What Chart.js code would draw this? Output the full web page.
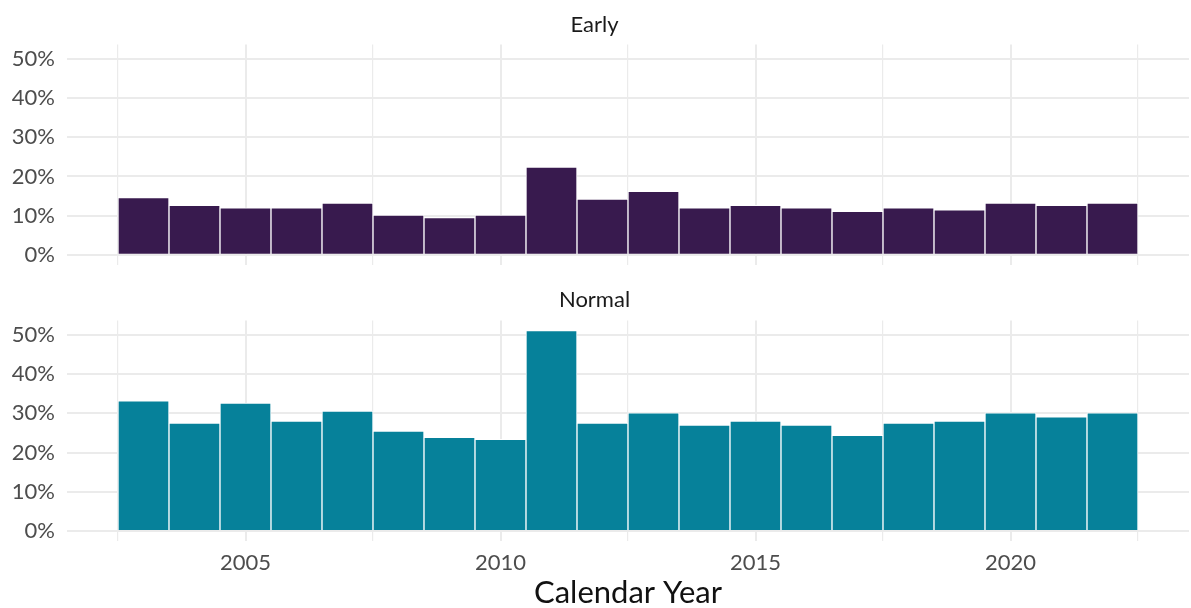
<!DOCTYPE html>
<html>
<head>
<meta charset="utf-8">
<title>Early vs Normal by Calendar Year</title>
<script src="https://cdn.jsdelivr.net/npm/chart.js@4/dist/chart.umd.min.js"></script>
<style>
    body { margin: 0; background: #fff; width: 1191px; height: 608px; overflow: hidden; }
    .panel { position: absolute; left: 0; width: 1191px; }
</style>
</head>
<body>

<div class="panel" style="top:0;height:290px"><canvas id="earlyChart"></canvas></div>
<div class="panel" style="top:280px;height:332px"><canvas id="normalChart"></canvas></div>

<script>
/*====================================
        Data
====================================*/

const years = [2003, 2004, 2005, 2006, 2007, 2008, 2009, 2010, 2011, 2012,
               2013, 2014, 2015, 2016, 2017, 2018, 2019, 2020, 2021, 2022];

// share of the year, in percent
const earlyShare  = [14.6, 12.6, 12.0, 12.0, 13.2, 10.1, 9.5, 10.1, 22.4, 14.2,
                     16.2, 12.0, 12.6, 12.0, 11.1, 12.0, 11.5, 13.2, 12.6, 13.2];
const normalShare = [33.2, 27.5, 32.6, 28.0, 30.6, 25.5, 23.9, 23.4, 51.1, 27.5,
                     30.1, 27.0, 28.0, 27.0, 24.4, 27.5, 28.0, 30.1, 29.1, 30.1];

const panelNames = ["Early", "Normal"];

const yTickValues = [0, 10, 20, 30, 40, 50];
const xTickValues = [2005, 2010, 2015, 2020];

// grid lines (major + minor) as ggplot draws them
const yGrid = [0, 5, 10, 15, 20, 25, 30, 35, 40, 45, 50];
const xGrid = [2002.5, 2005, 2007.5, 2010, 2012.5, 2015, 2017.5, 2020, 2022.5];

const FONT = "Lato";
const GRID = "#ebebeb";

// major lines a bit heavier than minor ones
function gridWidth(majors) {
    return c => (c.tick && majors.includes(c.tick.value)) ? 2 : 1.2;
}

/*====================================
        Panels
====================================*/

function makePanel(canvasId, name, values, color, showXAxis, titlePad, xAxisHeight) {

    return new Chart(document.getElementById(canvasId), {

        type: "bar",

        data: {
            datasets: [{
                label: name,
                data: years.map((yr, i) => ({ x: yr, y: values[i] })),
                backgroundColor: color,
                borderColor: "#ffffff",
                borderWidth: 1,
                barPercentage: 1,
                categoryPercentage: 1
            }]
        },

        options: {
            responsive: true,
            maintainAspectRatio: false,
            animation: false,
            layout: { padding: { left: 0, right: 2, top: 0, bottom: 0 } },

            plugins: {
                legend: { display: false },
                tooltip: { enabled: false },
                title: {
                    display: true,
                    text: name,
                    color: "#1a1a1a",
                    font: { family: FONT, size: 22, weight: "normal" },
                    padding: titlePad
                }
            },

            scales: {
                x: {
                    type: "linear",
                    min: 2001.5,
                    max: 2023.5,
                    offset: false,
                    afterBuildTicks: s => { s.ticks = xGrid.map(v => ({ value: v })); },
                    afterFit: s => { s.height = xAxisHeight; },
                    grid: {
                        color: GRID,
                        lineWidth: gridWidth(xTickValues),
                        drawTicks: false,
                        offset: false
                    },
                    border: { display: false },
                    ticks: {
                        display: showXAxis,
                        autoSkip: false,
                        maxRotation: 0,
                        padding: 9,
                        color: "#4d4d4d",
                        font: { family: FONT, size: 22 },
                        callback: v => xTickValues.includes(v) ? String(v) : ""
                    },
                    title: {
                        display: showXAxis,
                        text: "Calendar Year",
                        color: "#111111",
                        font: { family: FONT, size: 31 },
                        padding: { top: 0, bottom: 0 }
                    }
                },
                y: {
                    min: -2.56,
                    max: 53.7,
                    afterBuildTicks: s => { s.ticks = yGrid.map(v => ({ value: v })); },
                    afterFit: s => { s.width = 67; },
                    grid: {
                        color: GRID,
                        lineWidth: gridWidth(yTickValues),
                        drawTicks: false
                    },
                    border: { display: false },
                    ticks: {
                        padding: 12,
                        color: "#4d4d4d",
                        font: { family: FONT, size: 22 },
                        callback: v => yTickValues.includes(v) ? v + "%" : ""
                    }
                }
            }
        }
    });
}

makePanel("earlyChart", panelNames[0], earlyShare, "#381a4e", false,
          { top: 12, bottom: 6 }, 14);

makePanel("normalChart", panelNames[1], normalShare, "#06819a", true,
          { top: 7, bottom: 7 }, 71);
</script>
</body>
</html>
